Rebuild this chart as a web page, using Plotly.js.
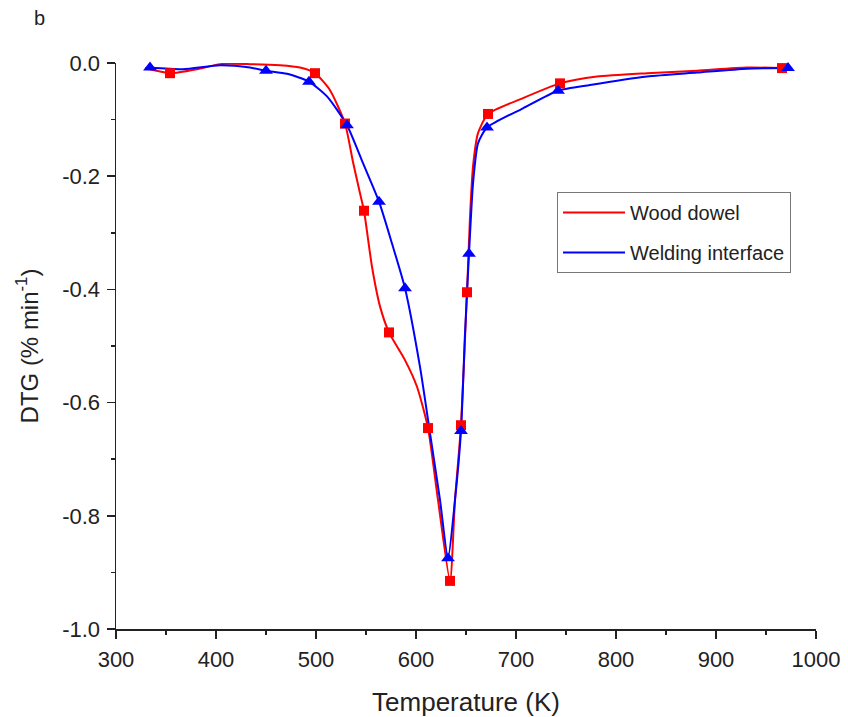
<!DOCTYPE html>
<html>
<head>
<meta charset="utf-8">
<script src="https://cdn.plot.ly/plotly-3.0.1.min.js"></script>
<style>html,body{margin:0;padding:0;background:#fff}#chart{width:848px;height:717px}</style>
</head>
<body>
<div id="chart"></div>
<script>
// Wood dowel curve
var woodLineT = [329, 354, 381, 404, 434, 464, 484, 499, 514, 529, 537, 544, 548, 556, 564, 573, 589, 601, 612, 622, 634, 639, 645, 651, 654, 657, 662, 672, 707, 744, 781, 831, 881, 931, 966];
var woodLineD = [-0.009, -0.018, -0.011, -0.002, -0.002, -0.004, -0.008, -0.018, -0.048, -0.107, -0.175, -0.230, -0.261, -0.36, -0.43, -0.476, -0.525, -0.572, -0.645, -0.772, -0.915, -0.772, -0.640, -0.405, -0.272, -0.183, -0.124, -0.090, -0.062, -0.036, -0.024, -0.018, -0.0136, -0.008, -0.009];
// Wood dowel markers
var woodMarkT = [354, 499, 529, 548, 573, 612, 634, 645, 651, 672, 744, 966];
var woodMarkD = [-0.018, -0.018, -0.107, -0.261, -0.476, -0.645, -0.915, -0.640, -0.405, -0.090, -0.036, -0.009];

// Welding interface curve
var weldLineT = [334, 367, 404, 434, 450, 471, 493, 511, 531, 547, 563, 576, 589, 604, 614, 624, 632, 639, 645, 649, 653, 657, 662, 671, 707, 742, 774, 831, 881, 931, 972];
var weldLineD = [-0.008, -0.011, -0.004, -0.008, -0.0136, -0.019, -0.033, -0.059, -0.110, -0.177, -0.245, -0.319, -0.398, -0.537, -0.654, -0.772, -0.875, -0.772, -0.650, -0.478, -0.337, -0.213, -0.142, -0.114, -0.080, -0.049, -0.039, -0.024, -0.017, -0.010, -0.009];
// Welding interface markers
var weldMarkT = [334, 450, 493, 531, 563, 589, 632, 645, 653, 671, 742, 972];
var weldMarkD = [-0.008, -0.0136, -0.033, -0.110, -0.245, -0.398, -0.875, -0.650, -0.337, -0.114, -0.049, -0.009];

var seriesNames = ["Wood dowel", "Welding interface"];
var yTickVals = [0.0, -0.2, -0.4, -0.6, -0.8, -1.0];
var yTickText = ["0.0", "-0.2", "-0.4", "-0.6", "-0.8", "-1.0"];
var xTickVals = [300, 400, 500, 600, 700, 800, 900, 1000];

var red = "#ff0000", blue = "#0000ff";
var font = "Liberation Sans, Arial, sans-serif";

var traces = [
  {x: woodLineT, y: woodLineD, mode: "lines", name: seriesNames[0], legendgroup: "a",
   line: {color: red, width: 2, shape: "spline", smoothing: 0.6}, cliponaxis: false},
  {x: weldLineT, y: weldLineD, mode: "lines", name: seriesNames[1], legendgroup: "b",
   line: {color: blue, width: 2, shape: "spline", smoothing: 0.6}, cliponaxis: false},
  {x: woodMarkT, y: woodMarkD, mode: "markers", showlegend: false,
   marker: {symbol: "square", size: 10, color: red}, cliponaxis: false},
  {x: weldMarkT, y: weldMarkD, mode: "markers", showlegend: false,
   marker: {symbol: "triangle-up", size: 12, color: blue}, cliponaxis: false}
];

var layout = {
  width: 848, height: 717,
  margin: {l: 116, r: 32, t: 63, b: 88},
  paper_bgcolor: "#ffffff", plot_bgcolor: "#ffffff",
  font: {family: font, size: 22, color: "#222"},
  showlegend: true,
  legend: {x: 0.63, y: 0.772, xanchor: "left", yanchor: "top",
    bordercolor: "#777", borderwidth: 1, bgcolor: "#ffffff", itemwidth: 62,
    font: {family: font, size: 20, color: "#222"}, tracegroupgap: 11},
  xaxis: {
    range: [300, 1000], tickvals: xTickVals, ticks: "outside", ticklen: 8, tickwidth: 1.5,
    tickcolor: "#222", showline: true, linecolor: "#222", linewidth: 1.5, showgrid: false,
    zeroline: false, tickfont: {size: 22}, ticklabelstandoff: 2,
    minor: {dtick: 50, ticks: "outside", ticklen: 4, tickwidth: 1.5, tickcolor: "#222", showgrid: false},
    title: {text: "Temperature (K)", font: {size: 26}, standoff: 22}
  },
  yaxis: {
    range: [-1.0, 0.0], tickvals: yTickVals, ticktext: yTickText, ticks: "outside", ticklen: 8, tickwidth: 1.5,
    tickcolor: "#222", showline: true, linecolor: "#222", linewidth: 1.5, showgrid: false,
    zeroline: false, tickfont: {size: 22}, ticklabelstandoff: 2,
    minor: {dtick: 0.1, ticks: "outside", ticklen: 4, tickwidth: 1.5, tickcolor: "#222", showgrid: false},
    title: {text: "DTG (% min<sup>-1</sup>)", font: {size: 24}, standoff: 17}
  },
  annotations: [{text: "b", xref: "paper", yref: "paper", x: -0.109, y: 1.08,
    xanchor: "center", yanchor: "middle", showarrow: false, font: {size: 20, color: "#222"}}]
};

Plotly.newPlot("chart", traces, layout, {displayModeBar: false, staticPlot: true});
</script>
</body>
</html>
